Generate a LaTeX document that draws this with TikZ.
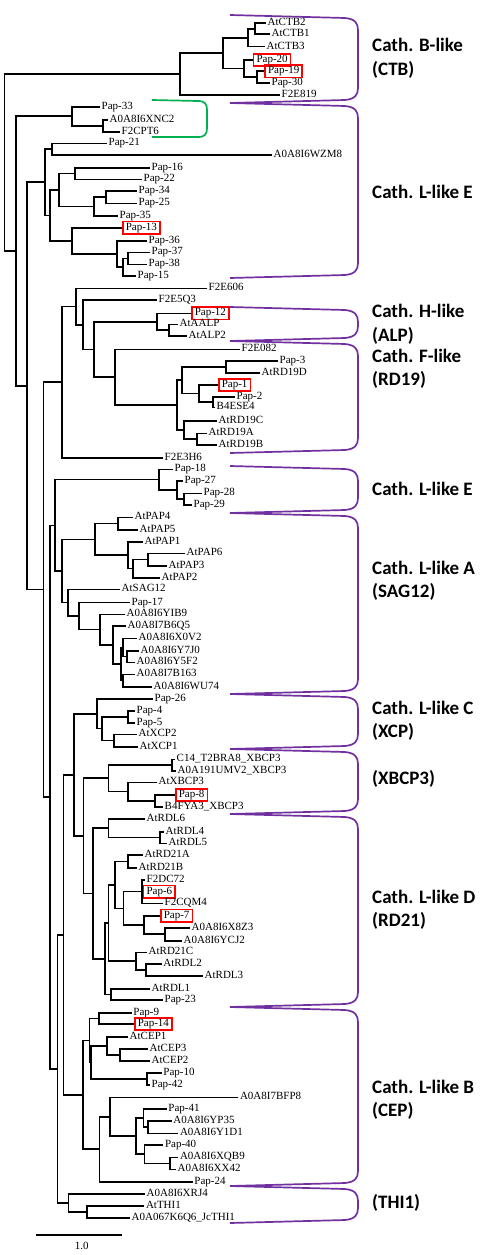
\documentclass[tikz,border=0pt]{standalone}
\usepackage{fontspec}
\setmainfont{Liberation Serif}
\newfontfamily\grpfont{Carlito}
\usetikzlibrary{calc}

\definecolor{cladepurple}{HTML}{7030A0}
\definecolor{cladegreen}{HTML}{00B050}

% clade: name, x of the split, upper child, lower child
\newcommand\clade[4]{%
  \path ($(#3)!.5!(#4)$) coordinate (#1m);
  \coordinate (#1x) at (#2,0);
  \coordinate (#1) at (#1m -| #1x);
  \draw[branch] (#3) -| (#1) |- (#4);
}
% group bracket on the right: top y, bottom y, style
\newcommand\groupmark[3]{%
  \draw[#3] (230,#1) -- (345,#1+3) .. controls (355,#1+4) and (358,#1+8) .. (358,#1+15)
    -- (358,#2-15) .. controls (358,#2-8) and (355,#2-4) .. (345,#2-3) -- (230,#2);
}

\begin{document}
\begin{tikzpicture}[x=1pt,y=-1pt,
    branch/.style={line width=1.6pt},
    leaf/.style={anchor=west, inner sep=1.5pt, text height=7.5pt, text depth=2.3pt,
      font=\fontsize{11}{13}\selectfont},
    hl/.style={leaf, draw=red, line width=1.6pt, inner xsep=3pt, inner ysep=1.2pt},
    grp/.style={anchor=west, align=left, inner sep=0pt,
      font=\grpfont\bfseries\fontsize{19}{23.5}\selectfont},
    pbrace/.style={draw=cladepurple, line width=1.7pt},
    gbrace/.style={draw=cladegreen, line width=1.7pt}]
\useasboundingbox (0,0) rectangle (491,1255);

% Cath. B-like
\node[leaf] (ctb2) at (266,23.3) {AtCTB2};
\node[leaf] (ctb1) at (270,34.3) {AtCTB1};
\node[leaf] (ctb3) at (265,46.7) {AtCTB3};
\node[hl] (pap20) at (252.7,60) {Pap-20};
\node[hl] (pap19) at (264.3,71.3) {Pap-19};
\node[leaf] (pap30) at (270,82.7) {Pap-30};
\node[leaf] (f2e819) at (280,95) {F2E819};
\clade{ctba}{255}{ctb2.west}{ctb1.west}
\clade{ctbb}{248}{ctba}{ctb3.west}
\clade{ctbc}{257}{pap19.west}{pap30.west}
\clade{ctbd}{244}{pap20.west}{ctbc}
\clade{ctbe}{223}{ctbb}{ctbd}
\clade{ctbf}{180}{ctbe}{f2e819.west}

% green group
\node[leaf] (pap33) at (100,106.7) {Pap-33};
\node[leaf] (xnc2) at (108,120) {A0A8I6XNC2};
\node[leaf] (cpt6) at (120,131.7) {F2CPT6};
\clade{ga}{103}{xnc2.west}{cpt6.west}
\clade{gb}{72}{pap33.west}{ga}

% Cath. L-like E
\node[leaf] (pap21) at (107,143.3) {Pap-21};
\node[leaf] (wzm8) at (272,155) {A0A8I6WZM8};
\clade{ea}{52}{pap21.west}{wzm8.west}
\node[leaf] (pap16) at (150,167.7) {Pap-16};
\node[leaf] (pap22) at (142,179.3) {Pap-22};
\clade{eb}{75}{pap16.west}{pap22.west}
\node[leaf] (pap34) at (137,191) {Pap-34};
\node[leaf] (pap25) at (137,203.3) {Pap-25};
\clade{ec}{106}{pap34.west}{pap25.west}
\node[leaf] (pap35) at (118,215.7) {Pap-35};
\clade{ed}{94}{ec}{pap35.west}
\clade{ee}{59}{eb}{ed}
\node[hl] (pap13) at (122,227.7) {Pap-13};
\node[leaf] (pap36) at (147,240.7) {Pap-36};
\node[leaf] (pap37) at (150,252.3) {Pap-37};
\node[leaf] (pap38) at (147,264.3) {Pap-38};
\node[leaf] (pap15) at (136,276) {Pap-15};
\clade{ef}{128}{pap37.west}{pap38.west}
\clade{eg}{123}{ef}{pap15.west}
\clade{eh}{117}{pap36.west}{eg}
\clade{ei}{72}{pap13.west}{eh}
\clade{ej}{50}{ee}{ei}
\clade{ek}{45}{ea}{ej}

% Cath. H-like and F-like
\node[leaf] (f2e606) at (207,288.3) {F2E606};
\node[leaf] (f2e5q3) at (157,300) {F2E5Q3};
\node[hl] (pap12) at (191,313.3) {Pap-12};
\node[leaf] (aalp) at (178,324.3) {AtAALP};
\node[leaf] (alp2) at (187,336) {AtALP2};
\clade{ha}{169}{aalp.west}{alp2.west}
\clade{hb}{157}{pap12.west}{ha}
\node[leaf] (f2e082) at (240,349.3) {F2E082};
\node[leaf] (pap3) at (278,361) {Pap-3};
\node[leaf] (rd19d) at (260,372.7) {AtRD19D};
\clade{fa}{226}{pap3.west}{rd19d.west}
\node[hl] (pap1) at (218,385) {Pap-1};
\node[leaf] (pap2) at (235,396.7) {Pap-2};
\node[leaf] (b4ese4) at (215,407.3) {B4ESE4};
\clade{fb}{213}{pap2.west}{b4ese4.west}
\clade{fc}{199}{pap1.west}{fb}
\clade{fd}{182}{fa}{fc}
\node[leaf] (rd19c) at (217,421) {AtRD19C};
\node[leaf] (rd19a) at (207,433.3) {AtRD19A};
\node[leaf] (rd19b) at (217,445) {AtRD19B};
\clade{fe}{197}{rd19a.west}{rd19b.west}
\clade{ff}{184}{rd19c.west}{fe}
\clade{fg}{177}{fd}{ff}
\clade{fh}{115}{f2e082.west}{fg}
\clade{hc}{94}{hb}{fh}
\clade{hd}{83}{f2e5q3.west}{hc}
\clade{he}{76}{f2e606.west}{hd}
\node[leaf] (f2e3h6) at (163,457.7) {F2E3H6};
\clade{hf}{62}{he}{f2e3h6.west}

% second L-like E
\node[leaf] (pap18) at (173,469.3) {Pap-18};
\node[leaf] (pap27) at (183,481) {Pap-27};
\node[leaf] (pap28) at (202,493.3) {Pap-28};
\node[leaf] (pap29) at (192,505) {Pap-29};
\clade{ka}{184}{pap28.west}{pap29.west}
\clade{kb}{177}{pap27.west}{ka}
\clade{kc}{159}{pap18.west}{kb}

% Cath. L-like A
\node[leaf] (atpap4) at (133,517.3) {AtPAP4};
\node[leaf] (atpap5) at (138,530) {AtPAP5};
\node[leaf] (atpap1) at (143,541.7) {AtPAP1};
\node[leaf] (atpap6) at (185,553.3) {AtPAP6};
\node[leaf] (atpap3) at (167,565.7) {AtPAP3};
\node[leaf] (atpap2) at (160,577.7) {AtPAP2};
\clade{aa}{118}{atpap4.west}{atpap5.west}
\clade{ab}{148}{atpap6.west}{atpap3.west}
\clade{ac}{133}{ab}{atpap2.west}
\clade{ad}{128}{atpap1.west}{ac}
\clade{ae}{95}{aa}{ad}
\node[leaf] (sag12) at (120,589.3) {AtSAG12};
\node[leaf] (pap17) at (130,602.5) {Pap-17};
\node[leaf] (yib9) at (125,614.3) {A0A8I6YIB9};
\node[leaf] (b6q5) at (126,626) {A0A8I7B6Q5};
\node[leaf] (x0v2) at (137,638.3) {A0A8I6X0V2};
\node[leaf] (y7j0) at (139,650.7) {A0A8I6Y7J0};
\node[leaf] (y5f2) at (135,662.3) {A0A8I6Y5F2};
\node[leaf] (b163) at (135,674.3) {A0A8I7B163};
\node[leaf] (wu74) at (152,686.7) {A0A8I6WU74};
\clade{af}{127}{y7j0.west}{y5f2.west}
\clade{ag}{123}{x0v2.west}{af}
\clade{ah}{122.7}{b163.west}{wu74.west}
\clade{ai}{120.7}{ag}{ah}
\clade{aj}{113}{b6q5.west}{ai}
\clade{ak}{100}{yib9.west}{aj}
\clade{al}{79}{pap17.west}{ak}
\clade{am}{68}{sag12.west}{al}
\clade{an}{62}{ae}{am}
\clade{ao}{55}{kc}{an}

% Cath. L-like C
\node[leaf] (pap26) at (153,699) {Pap-26};
\node[leaf] (pap4) at (135,711) {Pap-4};
\node[leaf] (pap5) at (135,722.7) {Pap-5};
\node[leaf] (xcp2) at (137,734.3) {AtXCP2};
\node[leaf] (xcp1) at (138,746.7) {AtXCP1};
\clade{xa}{128}{pap4.west}{pap5.west}
\clade{xb}{114}{xcp2.west}{xcp1.west}
\clade{xc}{101.7}{xa}{xb}
\clade{xd}{96.7}{pap26.west}{xc}

% XBCP3
\node[leaf] (c14) at (175,759.3) {C14\_T2BRA8\_XBCP3};
\node[leaf] (umv2) at (176,770.7) {A0A191UMV2\_XBCP3};
\node[leaf] (xbcp3) at (157,782.3) {AtXBCP3};
\node[hl] (pap8) at (175,795) {Pap-8};
\node[leaf] (fya3) at (163,806.7) {B4FYA3\_XBCP3};
\clade{ba}{171.7}{c14.west}{umv2.west}
\clade{bb}{155}{pap8.west}{fya3.west}
\clade{bc}{128}{xbcp3.west}{bb}
\clade{bd}{108.3}{ba}{bc}

% Cath. L-like D
\node[leaf] (rdl6) at (145,819) {AtRDL6};
\node[leaf] (rdl4) at (164,831.7) {AtRDL4};
\node[leaf] (rdl5) at (167,843.3) {AtRDL5};
\clade{da}{160}{rdl4.west}{rdl5.west}
\clade{db}{108.3}{rdl6.west}{da}
\node[leaf] (rd21a) at (143,855) {AtRD21A};
\node[leaf] (rd21b) at (137,867.7) {AtRD21B};
\clade{dc}{127.7}{rd21a.west}{rd21b.west}
\node[leaf] (f2dc72) at (145,880) {F2DC72};
\node[hl] (pap6) at (142.7,891.65) {Pap-6};
\node[leaf] (cqm4) at (163,903.3) {F2CQM4};
\clade{dd}{141.7}{f2dc72.west}{cqm4.west}
\draw[branch] (dd) -- (pap6.west);
\node[hl] (pap7) at (160,915.7) {Pap-7};
\node[leaf] (x8z3) at (190,927.7) {A0A8I6X8Z3};
\node[leaf] (ycj2) at (182,940.7) {A0A8I6YCJ2};
\clade{de}{165}{x8z3.west}{ycj2.west}
\clade{df}{144}{pap7.west}{de}
\clade{dg}{123.3}{dd}{df}
\clade{dh}{115}{dc}{dg}
\node[leaf] (rd21c) at (147,952.3) {AtRD21C};
\node[leaf] (rdl2) at (161.7,964) {AtRDL2};
\node[leaf] (rdl3) at (203,976) {AtRDL3};
\clade{di}{146}{rdl2.west}{rdl3.west}
\clade{dj}{136}{rd21c.west}{di}
\clade{dk}{108.3}{dh}{dj}
\node[leaf] (rdl1) at (150,989) {AtRDL1};
\node[leaf] (pap23) at (163,1000) {Pap-23};
\clade{dl}{110.7}{rdl1.west}{pap23.west}
\clade{dm}{105}{dk}{dl}
\clade{dn}{92.7}{db}{dm}
\clade{do}{83.3}{bd}{dn}
\clade{dp}{74}{xd}{do}

% Cath. L-like B
\node[leaf] (pap9) at (131.7,1012.7) {Pap-9};
\node[hl] (pap14) at (134,1024) {Pap-14};
\clade{pa}{99}{pap9.west}{pap14.west}
\node[leaf] (cep1) at (128,1036.7) {AtCEP1};
\node[leaf] (cep3) at (148,1049) {AtCEP3};
\node[leaf] (cep2) at (150,1061) {AtCEP2};
\clade{pb}{120}{cep3.west}{cep2.west}
\clade{pc}{106.7}{cep1.west}{pb}
\node[leaf] (pap10) at (161.7,1072.7) {Pap-10};
\node[leaf] (pap42) at (150,1085) {Pap-42};
\clade{pd}{146.7}{pap10.west}{pap42.west}
\clade{pe}{91}{pc}{pd}
\clade{pf}{89.3}{pa}{pe}
\node[leaf] (bfp8) at (238.3,1097.3) {A0A8I7BFP8};
\node[leaf] (pap41) at (166.7,1109) {Pap-41};
\node[leaf] (yp35) at (171.7,1121) {A0A8I6YP35};
\node[leaf] (y1d1) at (178.3,1133.3) {A0A8I6Y1D1};
\clade{pg}{147.7}{yp35.west}{y1d1.west}
\clade{ph}{143.3}{pap41.west}{pg}
\node[leaf] (pap40) at (163.3,1145) {Pap-40};
\node[leaf] (xqb9) at (178.3,1157.3) {A0A8I6XQB9};
\node[leaf] (xx42) at (176,1169.3) {A0A8I6XX42};
\clade{pi}{170}{xqb9.west}{xx42.west}
\clade{pj}{144.3}{pap40.west}{pi}
\clade{pk}{136}{ph}{pj}
\clade{pl}{110}{bfp8.west}{pk}
\node[leaf] (pap24) at (192.7,1181.7) {Pap-24};
\clade{pm}{99.3}{pl}{pap24.west}
\clade{pn}{82.7}{pf}{pm}
\clade{qa}{63.3}{dp}{pn}

% THI1
\node[leaf] (xrj4) at (145,1194) {A0A8I6XRJ4};
\node[leaf] (thi1) at (144.3,1206) {AtTHI1};
\node[leaf] (jcthi1) at (130,1217.7) {A0A067K6Q6\_JcTHI1};
\clade{ta}{86.7}{thi1.west}{jcthi1.west}
\clade{tb}{68.3}{xrj4.west}{ta}

% backbone
\clade{qb}{57.3}{qa}{tb}
\clade{qc}{50}{ao}{qb}
\clade{qd}{43.3}{hf}{qc}
\clade{qe}{26.7}{ek}{qd}
\clade{qf}{16}{gb}{qe}
\clade{root}{4.3}{ctbf}{qf}

% scale bar
\coordinate (sba) at (36,1235);
\coordinate (sbb) at (122.3,1235);
\draw[branch] (sba) -- (sbb);
\node[leaf, anchor=center] (sblab) at (81.7,1247) {1.0};

% group brackets
\draw[gbrace] (152,100) -- (198,101) .. controls (205,101) and (207,104) .. (207,110)
  -- (207,128) .. controls (207,134) and (205,137) .. (198,137) -- (152,137);
\groupmark{15}{103}{pbrace}
\groupmark{103}{278}{pbrace}
\groupmark{307}{341}{pbrace}
\groupmark{341}{453}{pbrace}
\groupmark{466}{513}{pbrace}
\groupmark{513}{694}{pbrace}
\groupmark{694}{749}{pbrace}
\groupmark{749}{814}{pbrace}
\groupmark{814}{1007}{pbrace}
\groupmark{1007}{1186}{pbrace}
\groupmark{1186}{1223}{pbrace}

% group labels
\node[grp] (lbctb) at (372,58.5) {Cath. B-like\\(CTB)};
\node[grp] (lbe1) at (372,192) {Cath. L-like E};
\node[grp] (lbh) at (372,324.5) {Cath. H-like\\(ALP)};
\node[grp] (lbf) at (372,369) {Cath. F-like\\(RD19)};
\node[grp] (lbe2) at (372,489) {Cath. L-like E};
\node[grp] (lba) at (372,581) {Cath. L-like A\\(SAG12)};
\node[grp] (lbc) at (372,721) {Cath. L-like C\\(XCP)};
\node[grp] (lbx) at (372,779) {(XBCP3)};
\node[grp] (lbd) at (372,910) {Cath. L-like D\\(RD21)};
\node[grp] (lbb) at (372,1100) {Cath. L-like B\\(CEP)};
\node[grp] (lbt) at (372,1203) {(THI1)};
\end{tikzpicture}
\end{document}
